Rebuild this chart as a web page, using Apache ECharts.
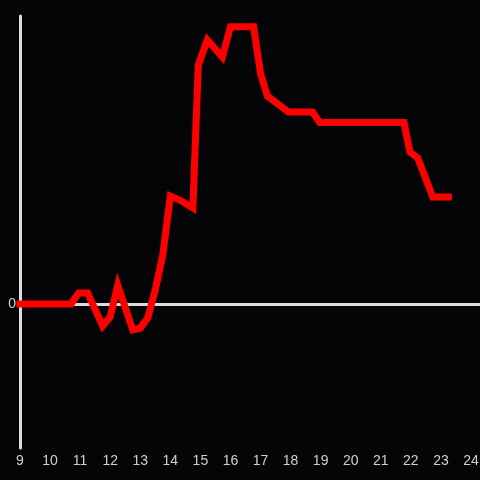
<!DOCTYPE html>
<html>
<head>
<meta charset="utf-8">
<script src="https://cdn.jsdelivr.net/npm/echarts@6/dist/echarts.min.js"></script>
<style>html,body{margin:0;padding:0;background:#050407;}#c{width:480px;height:480px;}</style>
</head>
<body>
<div id="c"></div>
<script>
var hours = [9, 10.7, 10.95, 11.25, 11.75, 12.0, 12.25, 12.75, 13.0, 13.25, 13.5, 13.75, 14.0, 14.33, 14.75, 14.93, 15.23, 15.73, 16.0, 16.77, 17.0, 17.23, 17.93, 18.73, 18.97, 21.77, 21.97, 22.23, 22.73, 23.25];
var values = [0, 0, 0.076, 0.076, -0.153, -0.09, 0.13, -0.18, -0.167, -0.097, 0.1, 0.34, 0.75, 0.72, 0.667, 1.66, 1.833, 1.715, 1.926, 1.926, 1.6, 1.444, 1.333, 1.333, 1.26, 1.26, 1.056, 1.014, 0.743, 0.743];
var xTicks = [9, 10, 11, 12, 13, 14, 15, 16, 17, 18, 19, 20, 21, 22, 23, 24];
var yTicks = [0];

var chart = echarts.init(document.getElementById('c'));
var lineData = hours.map(function (h, i) { return [h, values[i]]; });
var labelStyle = { color: '#d0d0d0', fontSize: 14, fontFamily: 'Liberation Sans, Arial, sans-serif' };
chart.setOption({
  backgroundColor: '#050407',
  animation: false,
  grid: { left: 20, right: 0, top: 16, bottom: 32, containLabel: false, outerBoundsMode: 'none' },
  xAxis: [{
    type: 'value', min: 9, max: 24.3, interval: 1,
    axisLine: { show: true, onZero: true, lineStyle: { color: '#dcdcdc', width: 3 } },
    axisTick: { show: false }, axisLabel: { show: false }, splitLine: { show: false }
  }, {
    type: 'value', min: 9, max: 24.3, interval: 1, position: 'bottom',
    axisLine: { show: false, onZero: false }, axisTick: { show: false }, splitLine: { show: false },
    axisLabel: Object.assign({ margin: 6, formatter: function (v) { return xTicks.indexOf(v) >= 0 ? String(v) : ''; } }, labelStyle)
  }],
  yAxis: {
    type: 'value', min: -1, max: 2, interval: 1,
    axisLine: { show: true, onZero: false, lineStyle: { color: '#dcdcdc', width: 3 } },
    axisTick: { show: false }, splitLine: { show: false },
    axisLabel: Object.assign({ margin: 4, formatter: function (v) { return yTicks.indexOf(v) >= 0 ? String(v) : ''; } }, labelStyle)
  },
  series: [{
    type: 'line', xAxisIndex: 0, data: lineData, symbol: 'none', z: 5,
    lineStyle: { color: '#ff0000', width: 7, cap: 'square', join: 'miter' }
  }]
});
</script>
</body>
</html>
